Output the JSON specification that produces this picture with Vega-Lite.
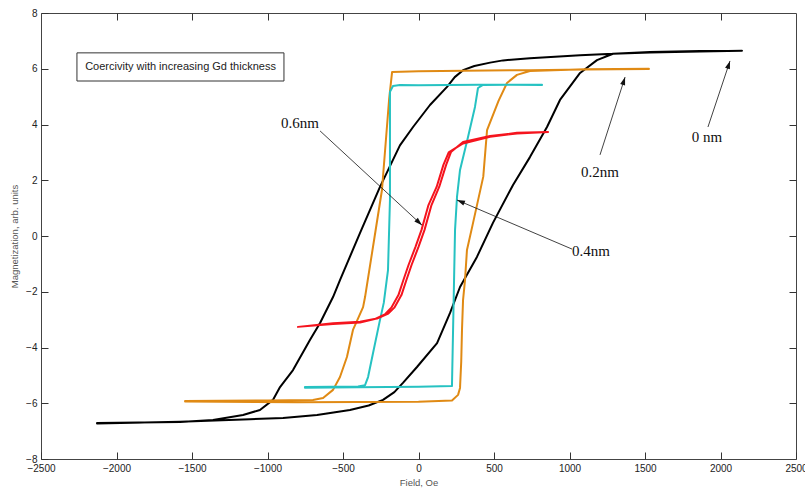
{
  "$schema": "https://vega.github.io/schema/vega-lite/v6.json",
  "width": 755,
  "height": 446,
  "autosize": {"type": "none"},
  "padding": {"left": 41, "top": 13, "right": 9, "bottom": 33},
  "background": "white",
  "config": {
    "view": {"stroke": "#444444", "strokeWidth": 1},
    "axis": {
      "labelFont": "Liberation Sans",
      "titleFont": "Liberation Sans",
      "labelFontSize": 10,
      "labelColor": "#222222",
      "titleFontSize": 9.5,
      "titleFontWeight": "normal",
      "titleColor": "#555555",
      "tickColor": "#333333",
      "tickSize": -7,
      "labelPadding": 11,
      "domain": false,
      "grid": false,
      "labelFlush": false,
      "labelOverlap": false,
      "format": "d"
    }
  },
  "datasets": {
    "curves": [
      {"s": "0 nm", "x": 2142, "y": 6.65}, {"s": "0 nm", "x": 1864, "y": 6.62}, {"s": "0 nm", "x": 1533, "y": 6.58},
      {"s": "0 nm", "x": 1288, "y": 6.54}, {"s": "0 nm", "x": 1070, "y": 6.48}, {"s": "0 nm", "x": 738, "y": 6.38},
      {"s": "0 nm", "x": 560, "y": 6.30}, {"s": "0 nm", "x": 474, "y": 6.22}, {"s": "0 nm", "x": 370, "y": 6.10},
      {"s": "0 nm", "x": 295, "y": 5.95}, {"s": "0 nm", "x": 240, "y": 5.70}, {"s": "0 nm", "x": 189, "y": 5.35},
      {"s": "0 nm", "x": 76, "y": 4.70}, {"s": "0 nm", "x": -36, "y": 3.91}, {"s": "0 nm", "x": -123, "y": 3.25},
      {"s": "0 nm", "x": -255, "y": 1.76}, {"s": "0 nm", "x": -387, "y": 0.11}, {"s": "0 nm", "x": -520, "y": -1.58},
      {"s": "0 nm", "x": -566, "y": -2.19}, {"s": "0 nm", "x": -652, "y": -3.12}, {"s": "0 nm", "x": -719, "y": -3.73},
      {"s": "0 nm", "x": -831, "y": -4.81}, {"s": "0 nm", "x": -917, "y": -5.42}, {"s": "0 nm", "x": -964, "y": -5.88},
      {"s": "0 nm", "x": -1050, "y": -6.24}, {"s": "0 nm", "x": -1162, "y": -6.42}, {"s": "0 nm", "x": -1361, "y": -6.60},
      {"s": "0 nm", "x": -1579, "y": -6.67}, {"s": "0 nm", "x": -2129, "y": -6.71},
      {"s": "0 nm", "x": -2129, "y": -6.73}, {"s": "0 nm", "x": -1579, "y": -6.66}, {"s": "0 nm", "x": -1116, "y": -6.57},
      {"s": "0 nm", "x": -897, "y": -6.53}, {"s": "0 nm", "x": -672, "y": -6.42}, {"s": "0 nm", "x": -454, "y": -6.24},
      {"s": "0 nm", "x": -330, "y": -6.08}, {"s": "0 nm", "x": -235, "y": -5.88}, {"s": "0 nm", "x": -160, "y": -5.60},
      {"s": "0 nm", "x": -103, "y": -5.27}, {"s": "0 nm", "x": -10, "y": -4.70}, {"s": "0 nm", "x": 123, "y": -3.84},
      {"s": "0 nm", "x": 209, "y": -2.76}, {"s": "0 nm", "x": 275, "y": -1.83}, {"s": "0 nm", "x": 387, "y": -0.75},
      {"s": "0 nm", "x": 493, "y": 0.47}, {"s": "0 nm", "x": 626, "y": 1.83}, {"s": "0 nm", "x": 738, "y": 2.83},
      {"s": "0 nm", "x": 851, "y": 3.91}, {"s": "0 nm", "x": 937, "y": 4.88}, {"s": "0 nm", "x": 1070, "y": 5.85},
      {"s": "0 nm", "x": 1182, "y": 6.31}, {"s": "0 nm", "x": 1288, "y": 6.54}, {"s": "0 nm", "x": 1533, "y": 6.60},
      {"s": "0 nm", "x": 1864, "y": 6.64}, {"s": "0 nm", "x": 2142, "y": 6.65},

      {"s": "0.2nm", "x": 1526, "y": 5.99}, {"s": "0.2nm", "x": 1100, "y": 5.97}, {"s": "0.2nm", "x": 738, "y": 5.95},
      {"s": "0.2nm", "x": 300, "y": 5.93}, {"s": "0.2nm", "x": 0, "y": 5.91}, {"s": "0.2nm", "x": -175, "y": 5.88},
      {"s": "0.2nm", "x": -195, "y": 4.88}, {"s": "0.2nm", "x": -242, "y": 1.65}, {"s": "0.2nm", "x": -290, "y": 0.0},
      {"s": "0.2nm", "x": -354, "y": -2.19}, {"s": "0.2nm", "x": -367, "y": -2.55}, {"s": "0.2nm", "x": -434, "y": -3.37},
      {"s": "0.2nm", "x": -474, "y": -4.34}, {"s": "0.2nm", "x": -520, "y": -5.06}, {"s": "0.2nm", "x": -566, "y": -5.52},
      {"s": "0.2nm", "x": -632, "y": -5.81}, {"s": "0.2nm", "x": -699, "y": -5.88}, {"s": "0.2nm", "x": -1000, "y": -5.90},
      {"s": "0.2nm", "x": -1546, "y": -5.92},
      {"s": "0.2nm", "x": -1546, "y": -5.94}, {"s": "0.2nm", "x": -800, "y": -5.96}, {"s": "0.2nm", "x": 0, "y": -5.95},
      {"s": "0.2nm", "x": 222, "y": -5.90}, {"s": "0.2nm", "x": 262, "y": -5.70}, {"s": "0.2nm", "x": 275, "y": -5.45},
      {"s": "0.2nm", "x": 283, "y": -4.50}, {"s": "0.2nm", "x": 288, "y": -3.37}, {"s": "0.2nm", "x": 295, "y": -2.30},
      {"s": "0.2nm", "x": 308, "y": -1.58}, {"s": "0.2nm", "x": 321, "y": -0.50}, {"s": "0.2nm", "x": 358, "y": 0.39},
      {"s": "0.2nm", "x": 429, "y": 2.13}, {"s": "0.2nm", "x": 454, "y": 3.80}, {"s": "0.2nm", "x": 530, "y": 4.85},
      {"s": "0.2nm", "x": 586, "y": 5.49}, {"s": "0.2nm", "x": 652, "y": 5.78}, {"s": "0.2nm", "x": 738, "y": 5.92},
      {"s": "0.2nm", "x": 1100, "y": 5.98}, {"s": "0.2nm", "x": 1526, "y": 6.00},

      {"s": "0.4nm", "x": 818, "y": 5.42}, {"s": "0.4nm", "x": 400, "y": 5.43}, {"s": "0.4nm", "x": 0, "y": 5.41},
      {"s": "0.4nm", "x": -123, "y": 5.42}, {"s": "0.4nm", "x": -169, "y": 5.38}, {"s": "0.4nm", "x": -189, "y": 5.17},
      {"s": "0.4nm", "x": -189, "y": 1.29}, {"s": "0.4nm", "x": -202, "y": -1.22}, {"s": "0.4nm", "x": -230, "y": -2.40},
      {"s": "0.4nm", "x": -255, "y": -3.01}, {"s": "0.4nm", "x": -301, "y": -4.20}, {"s": "0.4nm", "x": -334, "y": -5.06},
      {"s": "0.4nm", "x": -354, "y": -5.35}, {"s": "0.4nm", "x": -400, "y": -5.40}, {"s": "0.4nm", "x": -752, "y": -5.42},
      {"s": "0.4nm", "x": -752, "y": -5.44}, {"s": "0.4nm", "x": -400, "y": -5.43}, {"s": "0.4nm", "x": 0, "y": -5.41},
      {"s": "0.4nm", "x": 222, "y": -5.38}, {"s": "0.4nm", "x": 222, "y": -5.27}, {"s": "0.4nm", "x": 242, "y": 0.22},
      {"s": "0.4nm", "x": 255, "y": 1.40}, {"s": "0.4nm", "x": 275, "y": 2.37}, {"s": "0.4nm", "x": 328, "y": 3.55},
      {"s": "0.4nm", "x": 374, "y": 4.63}, {"s": "0.4nm", "x": 394, "y": 5.31}, {"s": "0.4nm", "x": 427, "y": 5.42},
      {"s": "0.4nm", "x": 818, "y": 5.43},

      {"s": "0.6nm", "x": -798, "y": -3.26}, {"s": "0.6nm", "x": -566, "y": -3.13}, {"s": "0.6nm", "x": -387, "y": -3.08},
      {"s": "0.6nm", "x": -275, "y": -2.96}, {"s": "0.6nm", "x": -200, "y": -2.78}, {"s": "0.6nm", "x": -160, "y": -2.57},
      {"s": "0.6nm", "x": -113, "y": -2.12}, {"s": "0.6nm", "x": -80, "y": -1.58}, {"s": "0.6nm", "x": -46, "y": -1.04},
      {"s": "0.6nm", "x": 0, "y": -0.39}, {"s": "0.6nm", "x": 40, "y": 0.22}, {"s": "0.6nm", "x": 86, "y": 1.11},
      {"s": "0.6nm", "x": 137, "y": 1.76}, {"s": "0.6nm", "x": 183, "y": 2.55}, {"s": "0.6nm", "x": 215, "y": 3.01},
      {"s": "0.6nm", "x": 295, "y": 3.37}, {"s": "0.6nm", "x": 474, "y": 3.59}, {"s": "0.6nm", "x": 652, "y": 3.70},
      {"s": "0.6nm", "x": 858, "y": 3.73},
      {"s": "0.6nm", "x": 652, "y": 3.68}, {"s": "0.6nm", "x": 474, "y": 3.56}, {"s": "0.6nm", "x": 295, "y": 3.32},
      {"s": "0.6nm", "x": 200, "y": 3.00}, {"s": "0.6nm", "x": 165, "y": 2.55}, {"s": "0.6nm", "x": 120, "y": 1.76},
      {"s": "0.6nm", "x": 66, "y": 1.11}, {"s": "0.6nm", "x": 20, "y": 0.22}, {"s": "0.6nm", "x": -20, "y": -0.39},
      {"s": "0.6nm", "x": -66, "y": -1.04}, {"s": "0.6nm", "x": -100, "y": -1.58}, {"s": "0.6nm", "x": -133, "y": -2.12},
      {"s": "0.6nm", "x": -180, "y": -2.57}, {"s": "0.6nm", "x": -220, "y": -2.80}, {"s": "0.6nm", "x": -290, "y": -2.98},
      {"s": "0.6nm", "x": -387, "y": -3.10}, {"s": "0.6nm", "x": -566, "y": -3.16}, {"s": "0.6nm", "x": -798, "y": -3.26}
    ],
    "notes": [
      {"label": "0.6nm", "lx": -785, "ly": 4.05, "x1": -652, "y1": 3.77, "x2": 23, "y2": 0.39},
      {"label": "0.4nm", "lx": 1142, "ly": -0.54, "x1": 1017, "y1": -0.47, "x2": 255, "y2": 1.29},
      {"label": "0.2nm", "lx": 1202, "ly": 2.30, "x1": 1202, "y1": 2.91, "x2": 1368, "y2": 5.70},
      {"label": "0 nm", "lx": 1911, "ly": 3.55, "x1": 1917, "y1": 3.91, "x2": 2063, "y2": 6.28}
    ],
    "caption": [
      {"text": "Coercivity with increasing Gd thickness", "x1": -2262, "x2": -891, "y1": 6.57, "y2": 5.56, "xc": -1576, "yc": 6.07}
    ]
  },
  "layer": [
    {
      "layer": [
        {
          "data": {"name": "caption"},
          "mark": {"type": "rect", "fill": "white", "stroke": "#333333", "strokeWidth": 1},
          "encoding": {
            "x": {"field": "x1", "type": "quantitative", "scale": {"domain": [-2500, 2500], "nice": false, "zero": false},
                  "axis": {"values": [-2500, -2000, -1500, -1000, -500, 0, 500, 1000, 1500, 2000, 2500], "title": "Field, Oe", "titlePadding": 4}},
            "x2": {"field": "x2"},
            "y": {"field": "y1", "type": "quantitative", "scale": {"domain": [-8, 8], "nice": false, "zero": false},
                  "axis": {"values": [-8, -6, -4, -2, 0, 2, 4, 6, 8], "title": "Magnetization, arb. units", "titlePadding": 6}},
            "y2": {"field": "y2"}
          }
        },
        {
          "data": {"name": "caption"},
          "mark": {"type": "text", "font": "Liberation Sans", "fontSize": 11, "color": "#222222", "align": "center", "baseline": "middle"},
          "encoding": {
            "x": {"field": "xc", "type": "quantitative"},
            "y": {"field": "yc", "type": "quantitative"},
            "text": {"field": "text"}
          }
        },
        {
          "data": {"name": "curves"},
          "mark": {"type": "line", "strokeJoin": "round", "strokeCap": "round"},
          "encoding": {
            "x": {"field": "x", "type": "quantitative"},
            "y": {"field": "y", "type": "quantitative"},
            "color": {"field": "s", "type": "nominal", "legend": null,
                      "scale": {"domain": ["0 nm", "0.2nm", "0.4nm", "0.6nm"], "range": ["#000000", "#E08A14", "#26C2C2", "#F5141E"]}},
            "strokeWidth": {"field": "s", "type": "nominal", "legend": null,
                      "scale": {"domain": ["0 nm", "0.2nm", "0.4nm", "0.6nm"], "range": [2, 2, 1.4, 2.4]}},
            "order": {"value": null}
          }
        },
        {
          "data": {"name": "notes"},
          "mark": {"type": "rule", "color": "#111111", "strokeWidth": 0.8},
          "encoding": {
            "x": {"field": "x1", "type": "quantitative"},
            "y": {"field": "y1", "type": "quantitative"},
            "x2": {"field": "x2"},
            "y2": {"field": "y2"}
          }
        },
        {
          "data": {"name": "notes"},
          "transform": [
            {"calculate": "atan2((datum.x1 - datum.x2) * 755 / 5000, (datum.y1 - datum.y2) * 446 / 16) * 180 / PI + 180", "as": "heading"}
          ],
          "mark": {"type": "point", "shape": "M0,0L-0.32,1L0.32,1Z", "filled": true, "color": "#111111", "opacity": 1, "size": 256},
          "encoding": {
            "x": {"field": "x2", "type": "quantitative"},
            "y": {"field": "y2", "type": "quantitative"},
            "angle": {"field": "heading", "type": "quantitative", "scale": null}
          }
        },
        {
          "data": {"name": "notes"},
          "mark": {"type": "text", "font": "Liberation Serif", "fontSize": 15, "color": "#111111", "align": "center", "baseline": "middle"},
          "encoding": {
            "x": {"field": "lx", "type": "quantitative"},
            "y": {"field": "ly", "type": "quantitative"},
            "text": {"field": "label"}
          }
        }
      ]
    },
    {
      "data": {"name": "caption"},
      "mark": {"type": "point", "opacity": 0},
      "encoding": {
        "x": {"field": "xc", "type": "quantitative", "scale": {"domain": [-2500, 2500], "nice": false, "zero": false},
              "axis": {"orient": "top", "labels": false, "title": null, "values": [-2000, -1500, -1000, -500, 0, 500, 1000, 1500, 2000]}},
        "y": {"field": "yc", "type": "quantitative", "scale": {"domain": [-8, 8], "nice": false, "zero": false},
              "axis": {"orient": "right", "labels": false, "title": null, "values": [-6, -4, -2, 0, 2, 4, 6]}}
      }
    }
  ],
  "resolve": {
    "scale": {"x": "independent", "y": "independent"},
    "axis": {"x": "independent", "y": "independent"}
  }
}
